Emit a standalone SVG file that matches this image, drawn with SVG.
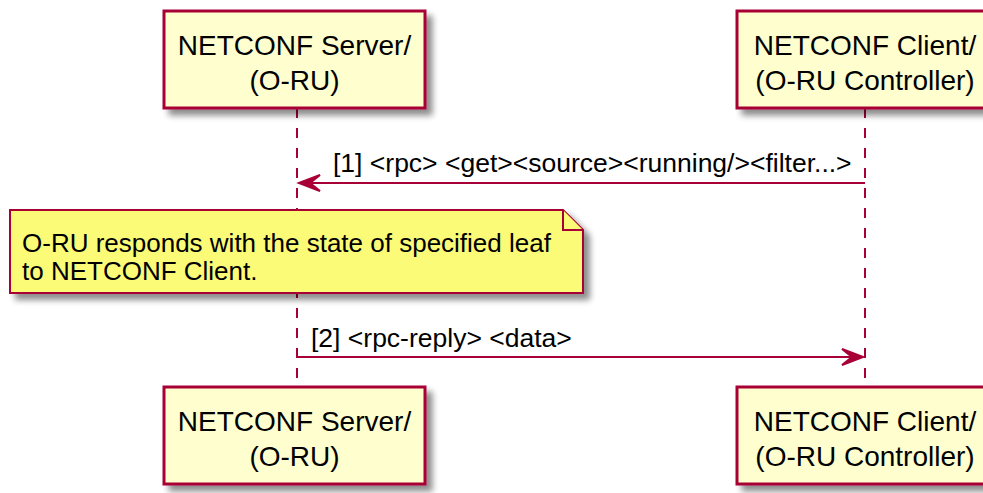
<svg xmlns="http://www.w3.org/2000/svg" width="983" height="493" viewBox="0 0 983 493">
<defs>
<filter id="sh" x="-10%" y="-10%" width="130%" height="140%">
<feGaussianBlur in="SourceAlpha" stdDeviation="3"/>
<feOffset dx="6" dy="6" result="b"/>
<feComponentTransfer><feFuncA type="linear" slope="0.45"/></feComponentTransfer>
<feMerge><feMergeNode/><feMergeNode in="SourceGraphic"/></feMerge>
</filter>
</defs>
<style>
.part{fill:#FEFECE;stroke:#A80036;stroke-width:3}
.pt{font-family:"Liberation Sans",Arial,sans-serif;font-size:28px;fill:#000;text-anchor:middle}
.life{stroke:#A80036;stroke-width:2;stroke-dasharray:10,10;fill:none}
.msg{stroke:#A80036;stroke-width:2;fill:none}
.head{fill:#A80036;stroke:#A80036;stroke-width:2}
.lt{font-family:"Liberation Sans",Arial,sans-serif;font-size:26px;fill:#000}
.ml{font-family:"Liberation Sans",Arial,sans-serif;font-size:26.5px;fill:#000}
.note{fill:#FBFB77;stroke:#A80036;stroke-width:2}
</style>
<g id="lifelines">
<line class="life" x1="297" y1="108" x2="297" y2="387"/>
<line class="life" x1="865" y1="108" x2="865" y2="387"/>
</g>
<g id="server-top">
<rect class="part" x="164" y="11" width="261" height="97" filter="url(#sh)"/>
<text class="pt" x="294.5" y="55">NETCONF Server/</text>
<text class="pt" x="294.5" y="90">(O-RU)</text>
</g>
<g id="client-top">
<rect class="part" x="737" y="11" width="256" height="97" filter="url(#sh)"/>
<text class="pt" x="865" y="55">NETCONF Client/</text>
<text class="pt" x="865" y="90">(O-RU Controller)</text>
</g>
<g id="connectors">
<line class="msg" x1="865" y1="183" x2="300" y2="183"/>
<polygon class="head" points="299,183 320,175 310,183 320,191"/>
<text class="ml" x="333" y="172">[1] &lt;rpc&gt; &lt;get&gt;&lt;source&gt;&lt;running/&gt;&lt;filter...&gt;</text>
<line class="msg" x1="297" y1="357" x2="862" y2="357"/>
<polygon class="head" points="863,357 842,349 852,357 842,365"/>
<text class="ml" x="311" y="347">[2] &lt;rpc-reply&gt; &lt;data&gt;</text>
</g>
<g id="note">
<path class="note" d="M10,210 L563,210 L583,230 L583,293 L10,293 Z" filter="url(#sh)"/>
<path class="note" d="M563,210 L563,230 L583,230"/>
<text class="lt" x="22" y="252">O-RU responds with the state of specified leaf</text>
<text class="lt" x="22" y="280">to NETCONF Client.</text>
</g>
<g id="server-bottom">
<rect class="part" x="164" y="387" width="261" height="97" filter="url(#sh)"/>
<text class="pt" x="294.5" y="431">NETCONF Server/</text>
<text class="pt" x="294.5" y="466">(O-RU)</text>
</g>
<g id="client-bottom">
<rect class="part" x="737" y="387" width="256" height="97" filter="url(#sh)"/>
<text class="pt" x="865" y="431">NETCONF Client/</text>
<text class="pt" x="865" y="466">(O-RU Controller)</text>
</g>
</svg>
